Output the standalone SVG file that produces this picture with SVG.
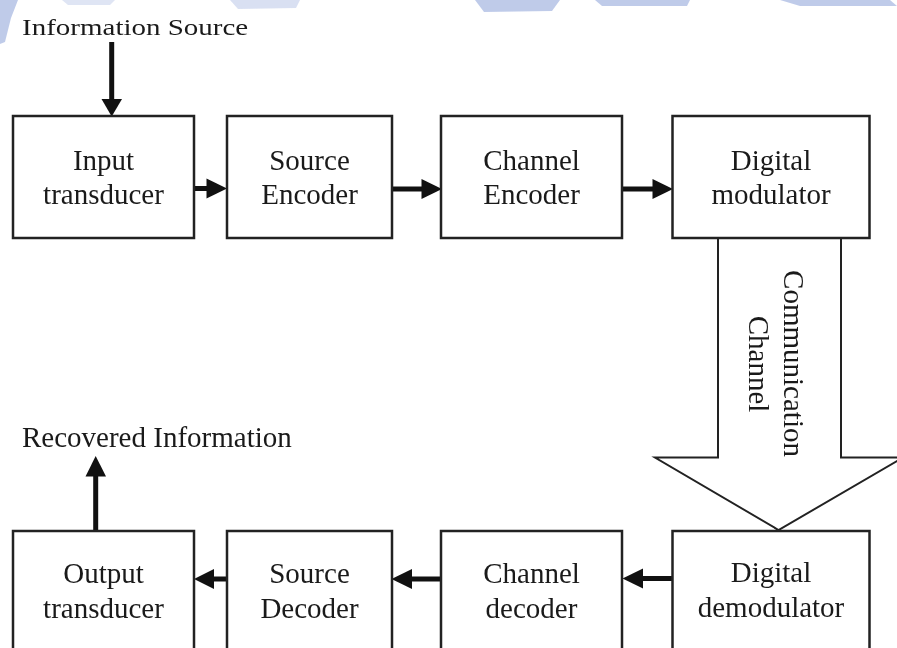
<svg xmlns="http://www.w3.org/2000/svg" width="897" height="648" viewBox="0 0 897 648">
<style>
.box{fill:#fff;stroke:#222;stroke-width:2.5}
.lbl{font-family:"Liberation Serif","Times New Roman",serif;font-size:29px;fill:#1a1a1a;text-anchor:middle}
.free{font-family:"Liberation Serif","Times New Roman",serif;font-size:29px;fill:#1a1a1a}
.stem{stroke:#111;stroke-width:5;fill:none}
.head{fill:#111}
.wm{fill:#b4c2e6}
</style>
<rect width="897" height="648" fill="#fff"/>
<g id="watermark" opacity="0.85">
<path class="wm" d="M0,0 L18,0 L11,18 L5,42 L0,44 Z"/>
<path class="wm" d="M62,0 L115,0 L110,5 L68,5 Z" opacity="0.5"/>
<path class="wm" d="M230,0 L300,0 L296,8 L238,9 Z" opacity="0.6"/>
<path class="wm" d="M475,0 L560,0 L552,11 L484,12 Z"/>
<path class="wm" d="M595,0 L690,0 L687,6 L602,6 Z"/>
<path class="wm" d="M780,0 L890,0 L897,6 L800,6 Z"/>
</g>
<g id="connectors">
<line class="stem" x1="111.7" y1="42" x2="111.7" y2="102"/>
<polygon class="head" points="101.5,99 122,99 111.7,116.5"/>
<line class="stem" x1="194" y1="188.5" x2="209" y2="188.5"/>
<polygon class="head" points="206.5,178.5 206.5,198.5 227,188.5"/>
<line class="stem" x1="392" y1="189" x2="424" y2="189"/>
<polygon class="head" points="421.5,179 421.5,199 442,189"/>
<line class="stem" x1="622" y1="189" x2="655" y2="189"/>
<polygon class="head" points="652.5,179 652.5,199 673,189"/>
<line class="stem" x1="672" y1="578.5" x2="640" y2="578.5"/>
<polygon class="head" points="643,568.5 643,588.5 622.5,578.5"/>
<line class="stem" x1="443" y1="579" x2="409" y2="579"/>
<polygon class="head" points="412,569 412,589 391.5,579"/>
<line class="stem" x1="229" y1="579" x2="211" y2="579"/>
<polygon class="head" points="214,569 214,589 194,579"/>
<line class="stem" x1="95.7" y1="531" x2="95.7" y2="473"/>
<polygon class="head" points="85.5,476.5 106,476.5 95.7,456"/>
</g>
<g id="channel">
<polyline points="718,238 718,457.5 655,457.5 778.5,530 903,457.5 841,457.5 841,238" fill="#fff" stroke="#222" stroke-width="2"/>
<text class="lbl" transform="translate(784,363.5) rotate(90)">Communication</text>
<text class="lbl" transform="translate(749,364) rotate(90)">Channel</text>
</g>
<g id="input-transducer">
<rect class="box" x="13" y="116" width="181" height="122"/>
<text class="lbl" x="103.5" y="170">Input</text>
<text class="lbl" x="103.5" y="204">transducer</text>
</g>
<g id="source-encoder">
<rect class="box" x="227" y="116" width="165" height="122"/>
<text class="lbl" x="309.5" y="170">Source</text>
<text class="lbl" x="309.5" y="204">Encoder</text>
</g>
<g id="channel-encoder">
<rect class="box" x="441" y="116" width="181" height="122"/>
<text class="lbl" x="531.5" y="170">Channel</text>
<text class="lbl" x="531.5" y="204">Encoder</text>
</g>
<g id="digital-modulator">
<rect class="box" x="672.5" y="116" width="197" height="122"/>
<text class="lbl" x="771" y="170">Digital</text>
<text class="lbl" x="771" y="204">modulator</text>
</g>
<g id="output-transducer">
<rect class="box" x="13" y="531" width="181" height="130"/>
<text class="lbl" x="103.5" y="583">Output</text>
<text class="lbl" x="103.5" y="617.5">transducer</text>
</g>
<g id="source-decoder">
<rect class="box" x="227" y="531" width="165" height="130"/>
<text class="lbl" x="309.5" y="583">Source</text>
<text class="lbl" x="309.5" y="617.5">Decoder</text>
</g>
<g id="channel-decoder">
<rect class="box" x="441" y="531" width="181" height="130"/>
<text class="lbl" x="531.5" y="583">Channel</text>
<text class="lbl" x="531.5" y="617.5">decoder</text>
</g>
<g id="digital-demodulator">
<rect class="box" x="672.5" y="531" width="197" height="130"/>
<text class="lbl" x="771" y="582">Digital</text>
<text class="lbl" x="771" y="617">demodulator</text>
</g>
<g id="information-source">
<text class="free" transform="translate(22,35) scale(1,0.78)">Information Source</text>
</g>
<g id="recovered-information">
<text class="free" x="22" y="447">Recovered Information</text>
</g>
</svg>
